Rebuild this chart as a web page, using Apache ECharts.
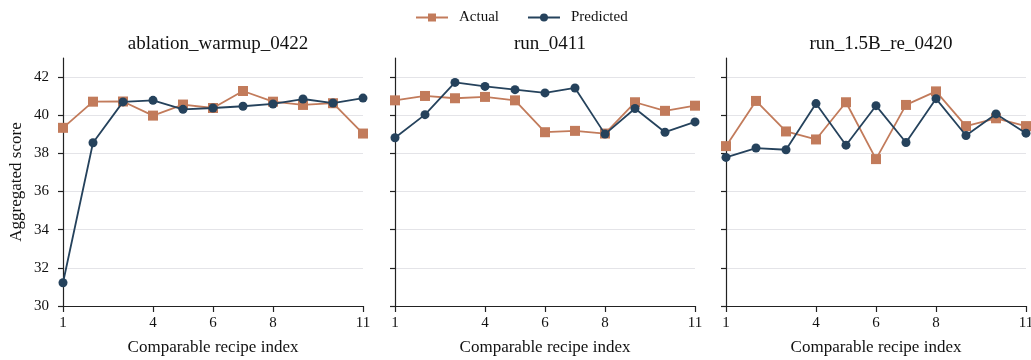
<!DOCTYPE html>
<html>
<head>
<meta charset="utf-8">
<script src="https://cdn.jsdelivr.net/npm/echarts@6/dist/echarts.min.js"></script>
<style>
  html, body { margin: 0; padding: 0; background: #fff; }
  #chart { width: 1031px; height: 360px; }
</style>
</head>
<body>
<div id="chart"></div>
<script>
// Recipe indices on the x axis, and the labelled ticks
const recipeIndex = [1, 2, 3, 4, 5, 6, 7, 8, 9, 10, 11];
const xTicks = [1, 4, 6, 8, 11];
const yTicks = [30, 32, 34, 36, 38, 40, 42];

// Panel titles (one run per panel)
const runs = ['ablation_warmup_0422', 'run_0411', 'run_1.5B_re_0420'];

// Aggregated scores per run
const actualWarmup = [39.34, 40.71, 40.72, 39.98, 40.56, 40.38, 41.27, 40.71, 40.54, 40.63, 39.04];
const predictedWarmup = [31.22, 38.56, 40.70, 40.78, 40.31, 40.38, 40.47, 40.59, 40.85, 40.64, 40.90];

const actual0411 = [40.78, 41.01, 40.89, 40.96, 40.78, 39.11, 39.18, 39.04, 40.68, 40.23, 40.50];
const predicted0411 = [38.82, 40.03, 41.72, 41.51, 41.34, 41.17, 41.43, 39.01, 40.35, 39.11, 39.65];

const actual0420 = [38.38, 40.75, 39.15, 38.73, 40.68, 37.70, 40.54, 41.25, 39.43, 39.84, 39.43];
const predicted0420 = [37.79, 38.28, 38.19, 40.61, 38.43, 40.50, 38.57, 40.87, 38.94, 40.07, 39.06];

const actualSets = [actualWarmup, actual0411, actual0420];
const predictedSets = [predictedWarmup, predicted0411, predicted0420];

const COLOR_ACTUAL = '#c27b5b';
const COLOR_PRED = '#25425c';
const FONT = '"Liberation Serif", "DejaVu Serif", serif';
const AXIS_COLOR = '#222';

const panelLeft = [63, 395, 726];
const panelWidth = 300;
const panelTop = 58;
const panelHeight = 248;

const pairs = (vals) => recipeIndex.map((x, i) => [x, vals[i]]);

const grids = [], xAxes = [], yAxes = [], titles = [], series = [];
runs.forEach((name, p) => {
  grids.push({
    left: panelLeft[p], top: panelTop, width: panelWidth, height: panelHeight,
    containLabel: false, outerBoundsMode: 'none'
  });
  titles.push({
    text: name,
    left: panelLeft[p] + panelWidth / 2,
    top: 30,
    textAlign: 'center',
    textStyle: { fontFamily: FONT, fontSize: 19, fontWeight: 'normal', color: '#111' }
  });
  xAxes.push({
    type: 'value', gridIndex: p, min: 1, max: 11,
    name: 'Comparable recipe index', nameLocation: 'middle', nameGap: 33,
    nameTextStyle: { fontFamily: FONT, fontSize: 17, color: '#111' },
    axisLine: { show: true, onZero: false, lineStyle: { color: AXIS_COLOR, width: 1.2 } },
    axisTick: { show: true, length: 6, customValues: xTicks, lineStyle: { color: AXIS_COLOR, width: 1.2 } },
    axisLabel: { customValues: xTicks, margin: 10, fontFamily: FONT, fontSize: 15, color: '#111' },
    splitLine: { show: false }
  });
  yAxes.push({
    type: 'value', gridIndex: p, min: 30, max: 43, interval: 2,
    name: p === 0 ? 'Aggregated score' : '', nameLocation: 'middle', nameGap: 38, nameRotate: 90,
    nameTextStyle: { fontFamily: FONT, fontSize: 17, color: '#111' },
    axisLine: { show: true, lineStyle: { color: AXIS_COLOR, width: 1.2 } },
    axisTick: { show: true, length: 5, customValues: yTicks, lineStyle: { color: AXIS_COLOR, width: 1.2 } },
    axisLabel: { show: p === 0, customValues: yTicks, margin: 14, fontFamily: FONT, fontSize: 15, color: '#111' },
    splitLine: { show: true, customValues: yTicks, lineStyle: { color: '#e4e4e8', width: 1 } }
  });
  series.push({
    name: 'Actual', type: 'line', xAxisIndex: p, yAxisIndex: p,
    data: pairs(actualSets[p]),
    symbol: 'rect', symbolSize: 10,
    lineStyle: { color: COLOR_ACTUAL, width: 1.8 },
    itemStyle: { color: COLOR_ACTUAL },
    z: 2
  });
  series.push({
    name: 'Predicted', type: 'line', xAxisIndex: p, yAxisIndex: p,
    data: pairs(predictedSets[p]),
    symbol: 'circle', symbolSize: 9,
    lineStyle: { color: COLOR_PRED, width: 1.8 },
    itemStyle: { color: COLOR_PRED },
    z: 3
  });
});

const chart = echarts.init(document.getElementById('chart'), null, { renderer: 'canvas' });
chart.setOption({
  animation: false,
  backgroundColor: '#fff',
  title: titles,
  legend: {
    data: ['Actual', 'Predicted'],
    top: 5, left: 410,
    itemWidth: 32, itemHeight: 10, itemGap: 28,
    textStyle: { fontFamily: FONT, fontSize: 15, color: '#111', padding: [0, 0, 0, 6] }
  },
  grid: grids,
  xAxis: xAxes,
  yAxis: yAxes,
  series: series
});
</script>
</body>
</html>
